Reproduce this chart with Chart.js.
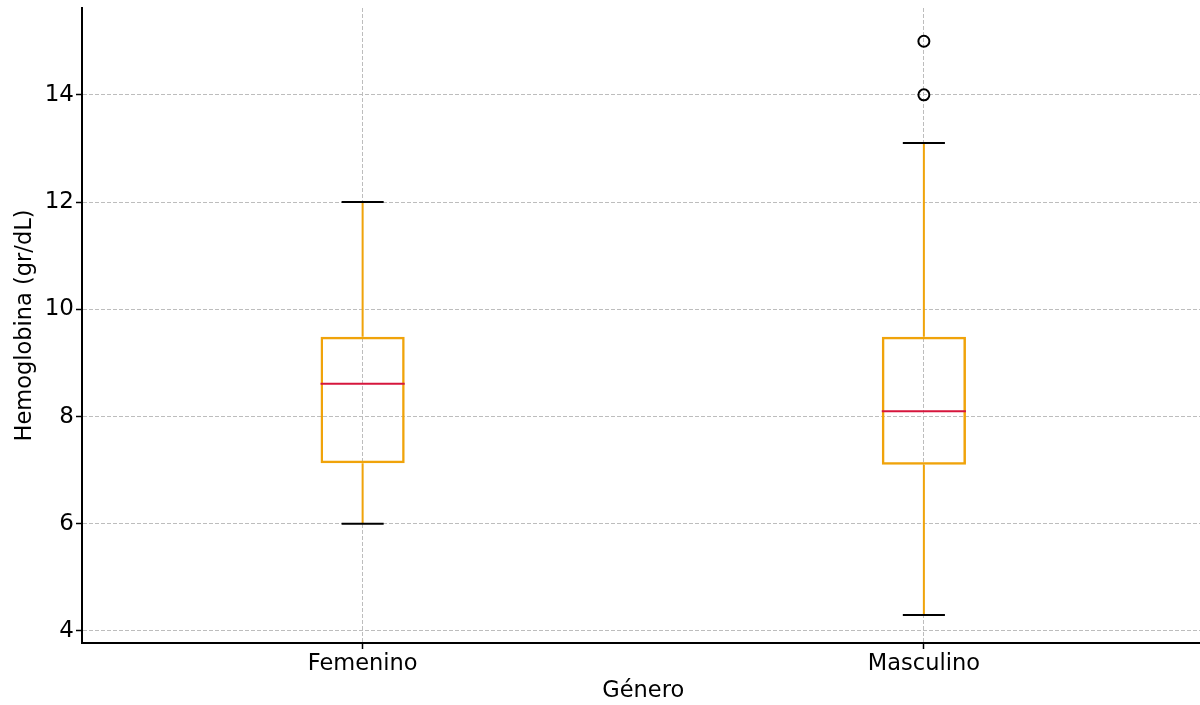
<!DOCTYPE html>
<html>
<head>
<meta charset="utf-8">
<script src="https://cdn.jsdelivr.net/npm/chart.js@4.4.1/dist/chart.umd.min.js"></script>
<style>
  html, body { margin: 0; padding: 0; background: #fff; overflow: hidden; }
  #wrap { position: relative; width: 1212px; height: 705px; }
</style>
</head>
<body>
<div id="wrap"><canvas id="chart"></canvas></div>
<script>
// Box plot stats (Hemoglobina por género)
const categories = ['Femenino', 'Masculino'];
const whiskerLow = [6.0, 4.3];
const q1 = [7.13, 7.10];
const median = [8.61, 8.10];
const q3 = [9.49, 9.49];
const whiskerHigh = [12.0, 13.1];
const outliers = [
    { x: 'Masculino', y: 15.0 },
    { x: 'Masculino', y: 14.0 }
];
const yTicks = [4, 6, 8, 10, 12, 14];

const BOX = '#f0a30a';
const MED = '#d6163c';
const FONT = 'DejaVu Sans';

// whiskers, caps and median lines, placed through the chart's own scales
const boxExtras = {
    id: 'boxExtras',
    afterDatasetsDraw(chart) {
        const { ctx, scales: { x, y } } = chart;
        const bars = chart.getDatasetMeta(0).data;
        ctx.save();
        ctx.lineWidth = 2;
        categories.forEach((c, i) => {
            const cx = x.getPixelForValue(i);
            const half = bars[i].width / 2;
            // whiskers
            ctx.strokeStyle = BOX;
            ctx.beginPath();
            ctx.moveTo(cx, y.getPixelForValue(q3[i]));
            ctx.lineTo(cx, y.getPixelForValue(whiskerHigh[i]));
            ctx.moveTo(cx, y.getPixelForValue(q1[i]));
            ctx.lineTo(cx, y.getPixelForValue(whiskerLow[i]));
            ctx.stroke();
            // caps
            ctx.strokeStyle = '#000';
            ctx.beginPath();
            [whiskerHigh[i], whiskerLow[i]].forEach(v => {
                const py = y.getPixelForValue(v);
                ctx.moveTo(cx - half / 2, py);
                ctx.lineTo(cx + half / 2, py);
            });
            ctx.stroke();
            // median
            ctx.strokeStyle = MED;
            ctx.beginPath();
            const my = y.getPixelForValue(median[i]);
            ctx.moveTo(cx - half, my);
            ctx.lineTo(cx + half, my);
            ctx.stroke();
        });
        ctx.restore();
    }
};

new Chart(document.getElementById('chart'), {
    type: 'bar',
    data: {
        labels: categories,
        datasets: [
            {
                data: categories.map((c, i) => [q1[i], q3[i]]),
                backgroundColor: 'rgba(0,0,0,0)',
                borderColor: BOX,
                borderWidth: 2.5,
                borderSkipped: false,
                barPercentage: 0.15,
                categoryPercentage: 1,
                order: 2
            },
            {
                type: 'line',
                data: outliers,
                showLine: false,
                pointStyle: 'circle',
                pointRadius: 5.5,
                pointBorderWidth: 2,
                pointBackgroundColor: 'rgba(0,0,0,0)',
                pointBorderColor: '#000',
                order: 1
            }
        ]
    },
    options: {
        responsive: true,
        maintainAspectRatio: false,
        animation: false,
        layout: { padding: 0 },
        plugins: {
            legend: { display: false },
            tooltip: { enabled: false },
            title: { display: false }
        },
        scales: {
            x: {
                offset: true,
                grid: {
                    offset: false,
                    color: '#bdbdbd',
                    lineWidth: 1,
                    tickLength: 6,
                    tickColor: '#000',
                    tickWidth: 1.5,
                    tickBorderDash: []
                },
                border: { display: true, color: '#000', width: 2, dash: [4, 2] },
                ticks: { color: '#000', padding: 2, font: { family: FONT, size: 22.5 } },
                title: {
                    display: true, text: 'Género', color: '#000',
                    font: { family: FONT, size: 22.5 }, padding: { top: 0, bottom: 0 }
                },
                afterFit: (s) => { s.height = 62; }
            },
            y: {
                min: 3.776,
                max: 15.62,
                afterBuildTicks: (s) => { s.ticks = yTicks.map(v => ({ value: v })); },
                grid: {
                    color: '#bdbdbd',
                    lineWidth: 1,
                    tickLength: 6,
                    tickColor: '#000',
                    tickWidth: 1.5,
                    tickBorderDash: []
                },
                border: { display: true, color: '#000', width: 2, dash: [4, 2] },
                ticks: { color: '#000', padding: 2, font: { family: FONT, size: 23 } },
                title: {
                    display: true, text: 'Hemoglobina (gr/dL)', color: '#000',
                    font: { family: FONT, size: 22.5 }, padding: { top: 12, bottom: 0 }
                },
                afterFit: (s) => { s.width = 82; s.paddingTop = 8; s.paddingBottom = 0; }
            }
        }
    },
    plugins: [boxExtras]
});
</script>
</body>
</html>
